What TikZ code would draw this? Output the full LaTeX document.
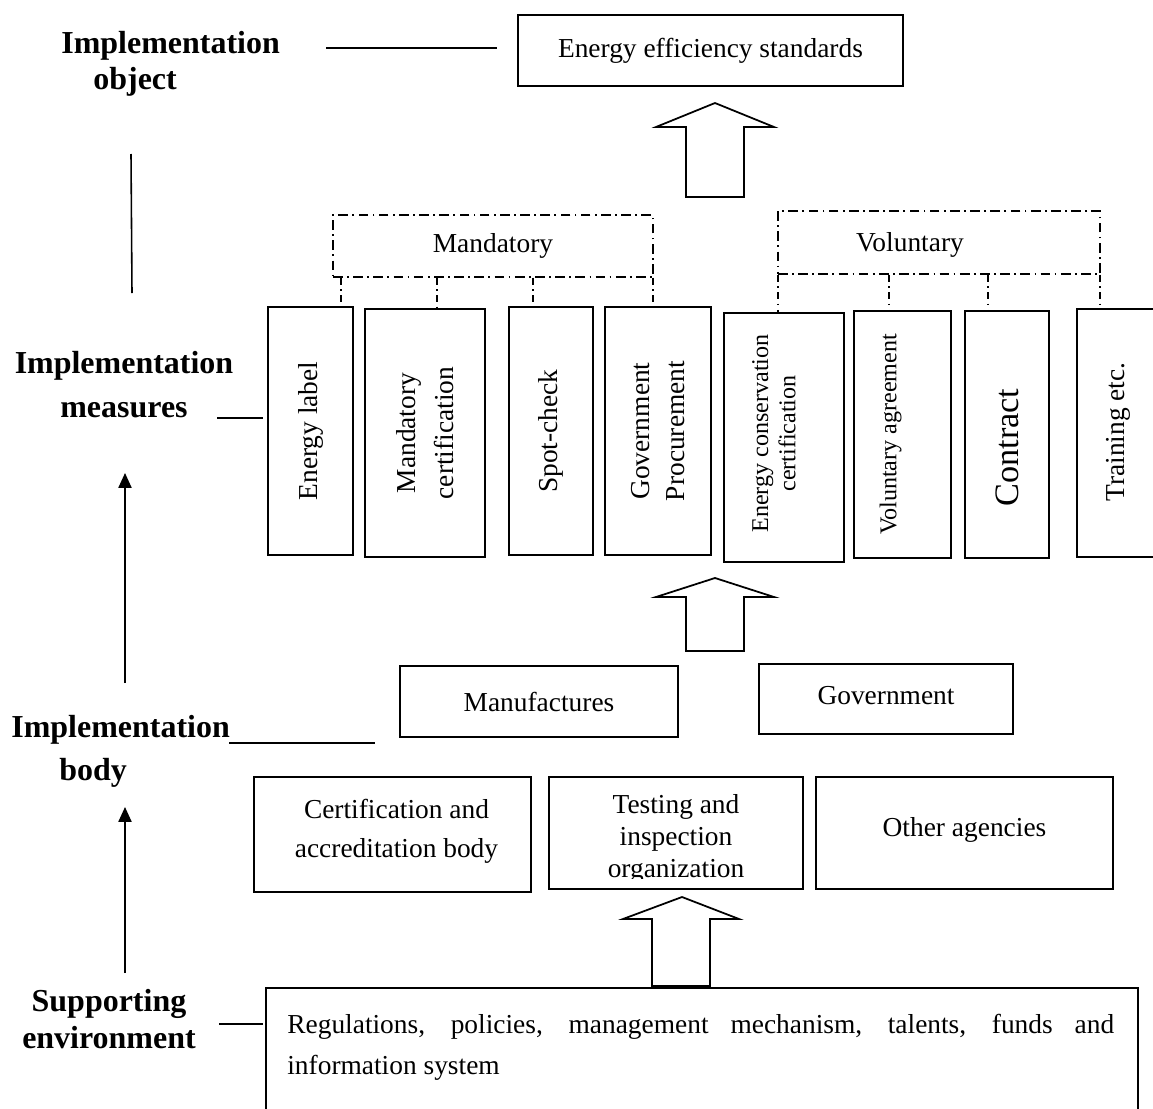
\documentclass[tikz,border=0pt]{standalone}
\usepackage{fontspec}
\setmainfont{Liberation Serif}
\usetikzlibrary{fit,arrows.meta,calc}
\begin{document}
\begin{tikzpicture}[x=0.02cm,y=-0.02cm,
  box/.style={draw, line width=1pt, inner sep=0pt},
  ddash/.style={draw, line width=0.8pt, inner sep=0pt, dash pattern=on 5.5pt off 2.5pt on 1pt off 2.5pt},
  dconn/.style={line width=0.8pt, dash pattern=on 4pt off 2.5pt on 1pt off 2.5pt},
  txt/.style={font=\fontsize{15.6}{19}\selectfont, align=center},
  vtxt/.style={txt, rotate=90},
  stxt/.style={font=\fontsize{13.7}{15.5}\selectfont, align=center, rotate=90},
  lab/.style={font=\fontsize{18.2}{21}\selectfont\bfseries, inner sep=0pt},
  lin/.style={line width=0.9pt},
  arr/.style={line width=0.9pt, -{Triangle[width=7.5pt,length=8.5pt]}},
  blk/.style={draw, line width=1pt, fill=white, line join=miter}
]
\useasboundingbox (0,0) rectangle (1153,1109);

% ---------- top ----------
\node[box, fit={(518,15) (903,86)}] (ees) {};
\node[txt] (eestxt) at (ees.center) {Energy efficiency standards};
\coordinate (a1) at (715,103);
\draw[blk] (a1) -- ++(59,24) -- ++(-30,0) -- ++(0,70) -- ++(-58,0) -- ++(0,-70) -- ++(-30,0) -- cycle;

% ---------- mandatory / voluntary groups ----------
\node[ddash, fit={(333,215) (653,277)}] (mand) {};
\node[txt] (mandtxt) at (mand.center) {Mandatory};
\node[ddash, fit={(778,211) (1100,274)}] (vol) {};
\node[txt] (voltxt) at (910,245) {Voluntary};

% ---------- measure boxes ----------
\node[box, fit={(268,307) (353,555)}] (el) {};
\node[box, fit={(365,309) (485,557)}] (mc) {};
\node[box, fit={(509,307) (593,555)}] (sc) {};
\node[box, fit={(605,307) (711,555)}] (gp) {};
\node[box, fit={(724,313) (844,562)}] (ec) {};
\node[box, fit={(854,311) (951,558)}] (va) {};
\node[box, fit={(965,311) (1049,558)}] (ct) {};
\node[box, fit={(1077,309) (1170,557)}] (tr) {};

\node[vtxt] (eltxt) at (el) {Energy label};
\node[vtxt, font=\fontsize{15.6}{22}\selectfont] (mctxt) at (mc) {Mandatory\\certification};
\node[vtxt] (sctxt) at (sc) {Spot-check};
\node[vtxt, font=\fontsize{15.6}{20}\selectfont] (gptxt) at (gp) {Government\\Procurement};
\node[stxt] (ectxt) at ($(ec)+(-10,-4)$) {Energy conservation\\certification};
\node[stxt] (vatxt) at ($(va)+(-12,0)$) {Voluntary agreement};
\node[vtxt, font=\fontsize{19.5}{22}\selectfont] (cttxt) at ($(ct)+(0,13)$) {Contract};
\node[vtxt] (trtxt) at (1118,432) {Training etc.};

% dash-dot connectors
\foreach \xx/\nn in {341/el, 437/mc, 533/sc, 653/gp} {
  \coordinate (t\nn) at (\xx,0);
  \draw[dconn] (mand.south -| t\nn) -- (\nn.north -| t\nn);
}
\foreach \xx/\nn in {778/ec, 889/va, 988/ct, 1100/tr} {
  \coordinate (t\nn) at (\xx,0);
  \draw[dconn] (vol.south -| t\nn) -- (\nn.north -| t\nn);
}

% ---------- second block arrow ----------
\coordinate (a2) at (715,578);
\draw[blk] (a2) -- ++(59,19) -- ++(-30,0) -- ++(0,54) -- ++(-58,0) -- ++(0,-54) -- ++(-30,0) -- cycle;

% ---------- implementation body ----------
\node[box, fit={(400,666) (678,737)}] (man) {};
\node[txt] (mantxt) at (man.center) {Manufactures};
\node[box, fit={(759,664) (1013,734)}] (gov) {};
\node[txt] (govtxt) at ($(gov.center)+(0,-3)$) {Government};
\node[box, fit={(254,777) (531,892)}] (cab) {};
\node[txt, font=\fontsize{15.6}{22}\selectfont] (cabtxt) at ($(cab.center)+(4,-3)$) {Certification and\\accreditation body};
\node[box, fit={(549,777) (803,889)}] (tio) {};
\begin{scope}
  \clip (549,777) rectangle (803,878);
  \node[txt, font=\fontsize{15.6}{18.2}\selectfont] (tiotxt) at (676,839) {Testing and\\inspection\\organization};
\end{scope}
\node[box, fit={(816,777) (1113,889)}] (oth) {};
\node[txt] (othtxt) at ($(oth.center)+(0,-3)$) {Other agencies};

% ---------- third block arrow ----------
\coordinate (a3) at (682,897);
\draw[blk] (a3) -- ++(57,22) -- ++(-29,0) -- ++(0,67) -- ++(-58,0) -- ++(0,-67) -- ++(-29,0) -- cycle;

% ---------- supporting environment ----------
\node[box, fit={(266,988) (1138,1130)}] (env) {};
\node[font=\fontsize{15.6}{23.3}\selectfont, text width=16.54cm, align=justify, inner sep=0pt, anchor=north west] (envtxt) at (287,1014)
  {Regulations, policies, management mechanism, talents, funds and\linebreak information system};

% ---------- left labels ----------
\node[lab, font=\fontsize{18.2}{20.5}\selectfont\bfseries, align=left, anchor=west] (lobj) at (61,64) {Implementation\\\hspace*{0.64cm}object};
\node[lab, font=\fontsize{18.2}{25}\selectfont\bfseries, align=center] (lmeas) at (124,385) {Implementation\\measures};
\node[lab, font=\fontsize{18.2}{24.5}\selectfont\bfseries, align=left, anchor=west] (lbody) at (11,751) {Implementation\\\hspace*{0.96cm}body};
\node[lab, align=center] (lsup) at (109,1019) {Supporting\\environment};

\coordinate (o1) at (326,48);  \coordinate (o2) at (497,48);
\draw[lin] (o1) -- (o2);
\coordinate (v1) at (131,154); \coordinate (v2) at (132,293);
\draw[lin] (v1) -- (v2);
\coordinate (m1) at (217,418); \coordinate (m2) at (263,418);
\draw[lin] (m1) -- (m2);
\coordinate (p1) at (125,683); \coordinate (p2) at (125,473);
\draw[arr] (p1) -- (p2);
\coordinate (b1) at (229,743); \coordinate (b2) at (375,743);
\draw[lin] (b1) -- (b2);
\coordinate (q1) at (125,973); \coordinate (q2) at (125,807);
\draw[arr] (q1) -- (q2);
\coordinate (s1) at (219,1024); \coordinate (s2) at (263,1024);
\draw[lin] (s1) -- (s2);
\end{tikzpicture}
\end{document}
